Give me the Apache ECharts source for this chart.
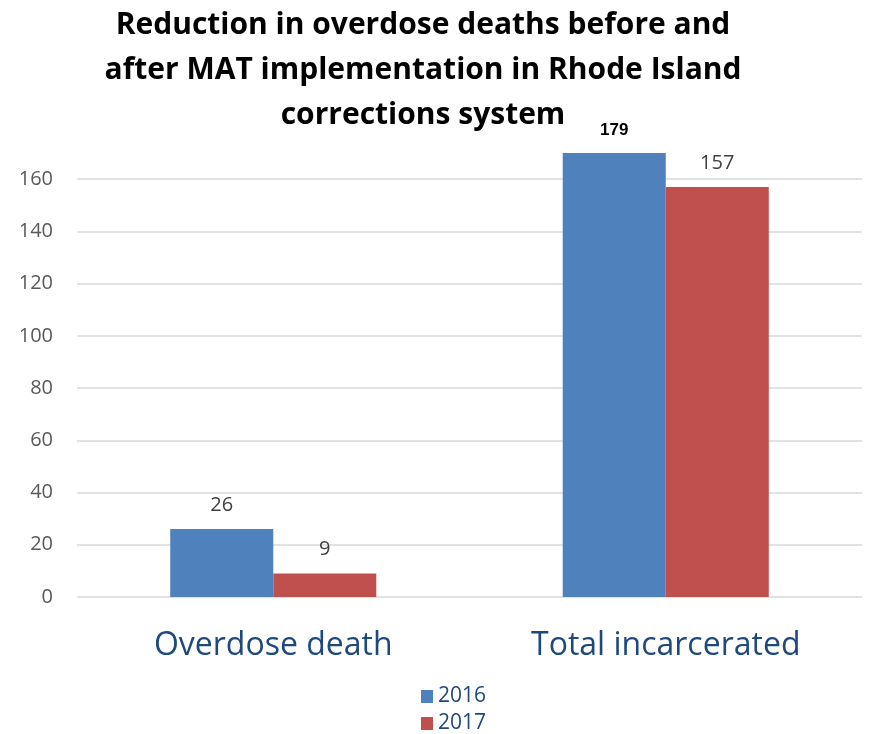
<!DOCTYPE html>
<html><head><meta charset="utf-8">
<script src="https://cdn.jsdelivr.net/npm/echarts@6/dist/echarts.min.js"></script>
<style>html,body{margin:0;padding:0;background:#fff}#c{width:869px;height:734px}</style>
</head><body><div id="c"></div>
<script>
const categories = ['Overdose death', 'Total incarcerated'];
const seriesNames = ['2016', '2017'];
const values2016 = [26, 179];
const values2017 = [9, 157];
const yMax = 170;
const yInterval = 20;
const titleText = 'Reduction in overdose deaths before and\nafter MAT implementation in Rhode Island\ncorrections system';

const chart = echarts.init(document.getElementById('c'));
const labelBase = {show: true, position: 'top', distance: 14, fontFamily: 'Open Sans', fontSize: 20, color: '#404040'};
function mkData(vals) {
  return vals.map(v => {
    if (v > yMax) {
      return {value: v, label: {fontFamily: 'Liberation Sans', fontWeight: 'bold', fontSize: 17, color: '#000'}};
    }
    return v;
  });
}
const legendCommon = {
  orient: 'vertical', left: 421, itemWidth: 12, itemHeight: 13, padding: 0,
  icon: 'rect',
  textStyle: {fontFamily: 'Open Sans', fontSize: 21, color: '#1f497d'}
};
chart.setOption({
  animation: false,
  title: {
    text: titleText, left: 423, top: 3, textAlign: 'center', padding: 0,
    textStyle: {fontFamily: 'Open Sans', fontWeight: 'bold', fontSize: 30, lineHeight: 45, color: '#000'}
  },
  legend: [
    Object.assign({}, legendCommon, {top: 686, data: [seriesNames[0]]}),
    Object.assign({}, legendCommon, {top: 713, data: [seriesNames[1]]})
  ],
  grid: {left: 77, right: 7, top: 153, bottom: 137, containLabel: false},
  xAxis: {
    type: 'category', data: categories,
    axisLine: {show: false}, axisTick: {show: false},
    axisLabel: {fontFamily: 'Open Sans', fontSize: 32, color: '#1f497d', margin: 33}
  },
  yAxis: {
    type: 'value', min: 0, max: yMax, interval: yInterval,
    axisLine: {show: false}, axisTick: {show: false},
    axisLabel: {fontFamily: 'Open Sans', fontSize: 20, color: '#595959', margin: 24,
      formatter: v => (v % yInterval === 0 ? String(v) : '')},
    splitLine: {lineStyle: {color: ['#d9d9d9','#d9d9d9','#d9d9d9','#d9d9d9','#d9d9d9','#d9d9d9','#d9d9d9','#d9d9d9','#d9d9d9','rgba(0,0,0,0)'], width: 1.5}}
  },
  series: [
    {name: seriesNames[0], type: 'bar', data: mkData(values2016), itemStyle: {color: '#4f81bd'},
     barGap: '0%', barCategoryGap: '47.5%', clip: true, label: labelBase},
    {name: seriesNames[1], type: 'bar', data: mkData(values2017), itemStyle: {color: '#c0504d'},
     barGap: '0%', barCategoryGap: '47.5%', clip: true, label: labelBase}
  ]
});
</script></body></html>
